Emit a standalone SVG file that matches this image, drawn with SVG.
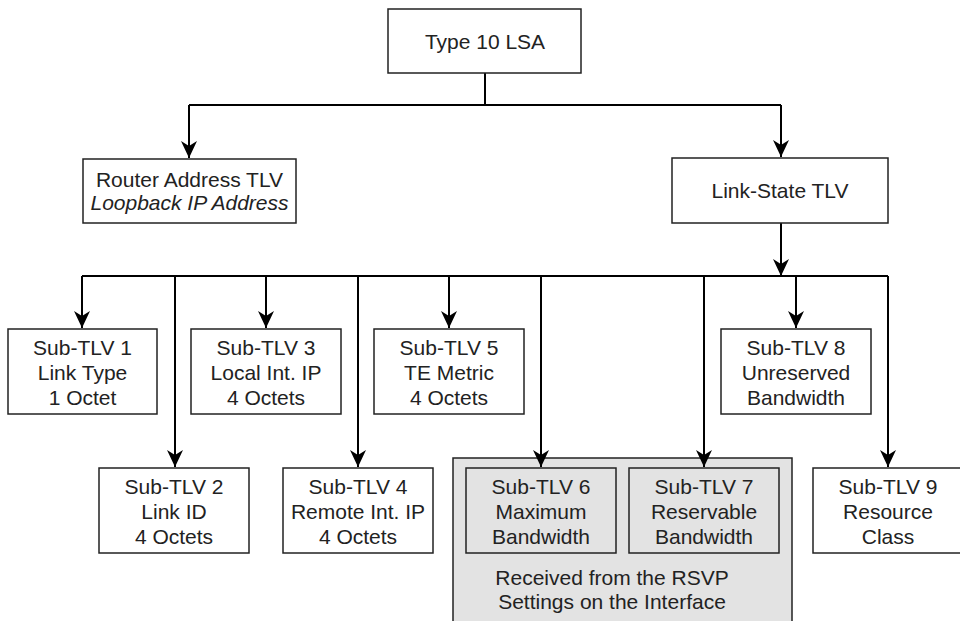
<svg xmlns="http://www.w3.org/2000/svg" width="960" height="621" viewBox="0 0 960 621">
<style>
  .box { fill: #ffffff; stroke: #222222; stroke-width: 1.5; }
  .gbox { fill: #e3e3e3; stroke: #222222; stroke-width: 1.5; }
  .t { font-family: "Liberation Sans", Arial, sans-serif; font-size: 21px; fill: #222222; text-anchor: middle; }
  .it { font-style: italic; }
  .ln { fill: none; stroke: #000000; stroke-width: 2; }
  .arr { fill: none; stroke: #000000; stroke-width: 2; marker-end: url(#ah); }
</style>
<defs>
  <marker id="ah" viewBox="-18 -9 19 18" refX="0" refY="0" markerWidth="19" markerHeight="18" markerUnits="userSpaceOnUse" orient="auto">
    <path d="M0,0 L-17,-8 L-12,0 L-17,8 Z" fill="#000000"/>
  </marker>
</defs>
<rect width="960" height="621" fill="#ffffff"/>

<g id="rsvp-group">
  <rect class="gbox" x="453" y="458" width="339" height="175"/>
  <text class="t" x="612" y="585">Received from the RSVP</text>
  <text class="t" x="612" y="609">Settings on the Interface</text>
</g>

<g id="connectors">
  <polyline class="ln" points="485,73 485,105"/>
  <polyline class="ln" points="189,105 781,105"/>
  <polyline class="arr" points="189,105 189,158"/>
  <polyline class="arr" points="781,105 781,157"/>
  <polyline class="arr" points="781,223 781,276"/>
  <polyline class="ln" points="82,276 888,276"/>
  <polyline class="arr" points="82,276 82,328"/>
  <polyline class="arr" points="175,276 175,467"/>
  <polyline class="arr" points="266,276 266,328"/>
  <polyline class="arr" points="358,276 358,467"/>
  <polyline class="arr" points="449,276 449,328"/>
  <polyline class="arr" points="541,276 541,467"/>
  <polyline class="arr" points="704,276 704,467"/>
  <polyline class="arr" points="796,276 796,328"/>
  <polyline class="arr" points="888,276 888,467"/>
</g>

<g id="type10">
  <rect class="box" x="388" y="9" width="193" height="64"/>
  <text class="t" x="485" y="49">Type 10 LSA</text>
</g>

<g id="router-tlv">
  <rect class="box" x="83" y="159" width="213" height="64"/>
  <text class="t" x="189.5" y="187">Router Address TLV</text>
  <text class="t it" x="189.5" y="210">Loopback IP Address</text>
</g>

<g id="link-state-tlv">
  <rect class="box" x="672" y="158" width="216" height="65"/>
  <text class="t" x="780" y="198">Link-State TLV</text>
</g>

<g id="sub1">
  <rect class="box" x="8" y="329" width="149" height="85"/>
  <text class="t" x="82.5" y="355">Sub-TLV 1</text>
  <text class="t" x="82.5" y="380">Link Type</text>
  <text class="t" x="82.5" y="405">1 Octet</text>
</g>

<g id="sub2">
  <rect class="box" x="99" y="468" width="150" height="85"/>
  <text class="t" x="174" y="494">Sub-TLV 2</text>
  <text class="t" x="174" y="519">Link ID</text>
  <text class="t" x="174" y="544">4 Octets</text>
</g>

<g id="sub3">
  <rect class="box" x="191" y="329" width="150" height="85"/>
  <text class="t" x="266" y="355">Sub-TLV 3</text>
  <text class="t" x="266" y="380">Local Int. IP</text>
  <text class="t" x="266" y="405">4 Octets</text>
</g>

<g id="sub4">
  <rect class="box" x="283" y="468" width="150" height="85"/>
  <text class="t" x="358" y="494">Sub-TLV 4</text>
  <text class="t" x="358" y="519">Remote Int. IP</text>
  <text class="t" x="358" y="544">4 Octets</text>
</g>

<g id="sub5">
  <rect class="box" x="374" y="329" width="150" height="85"/>
  <text class="t" x="449" y="355">Sub-TLV 5</text>
  <text class="t" x="449" y="380">TE Metric</text>
  <text class="t" x="449" y="405">4 Octets</text>
</g>

<g id="sub6">
  <rect class="gbox" x="466" y="468" width="150" height="85"/>
  <text class="t" x="541" y="494">Sub-TLV 6</text>
  <text class="t" x="541" y="519">Maximum</text>
  <text class="t" x="541" y="544">Bandwidth</text>
</g>

<g id="sub7">
  <rect class="gbox" x="629" y="468" width="150" height="85"/>
  <text class="t" x="704" y="494">Sub-TLV 7</text>
  <text class="t" x="704" y="519">Reservable</text>
  <text class="t" x="704" y="544">Bandwidth</text>
</g>

<g id="sub8">
  <rect class="box" x="721" y="329" width="150" height="85"/>
  <text class="t" x="796" y="355">Sub-TLV 8</text>
  <text class="t" x="796" y="380">Unreserved</text>
  <text class="t" x="796" y="405">Bandwidth</text>
</g>

<g id="sub9">
  <rect class="box" x="813" y="468" width="150" height="85"/>
  <text class="t" x="888" y="494">Sub-TLV 9</text>
  <text class="t" x="888" y="519">Resource</text>
  <text class="t" x="888" y="544">Class</text>
</g>
</svg>
